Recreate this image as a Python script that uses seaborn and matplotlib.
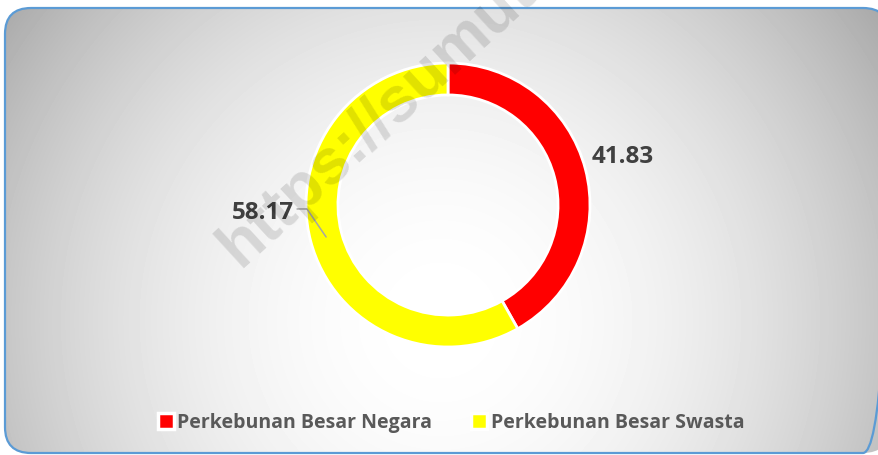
import numpy as np
import matplotlib
matplotlib.use("Agg")
import matplotlib.pyplot as plt
from matplotlib.patches import FancyBboxPatch
from matplotlib.lines import Line2D
import seaborn as sns

# Data
categories = ["Perkebunan Besar Negara", "Perkebunan Besar Swasta"]
shares = [41.83, 58.17]
slice_colors = ["#FF0000", "#FFFF00"]
watermark = "https://sumut.bps.go.id"

# Style
sns.set_theme(style="white")
plt.rcParams["font.family"] = ["Open Sans", "DejaVu Sans"]
palette = sns.color_palette(slice_colors)

W, H = 879, 455
fig = plt.figure(figsize=(W / 100, H / 100), dpi=100)
fig.patch.set_facecolor("white")

# Background panel with radial gradient and rounded border
bg = fig.add_axes([0, 0, 1, 1], zorder=0)
yy, xx = np.mgrid[0:H, 0:W]
r = np.hypot(xx - 440, yy - 320)
shade = 1 - 0.34 * np.clip(r / 540, 0, 1) ** 2
panel = FancyBboxPatch((5, 8), 884, 445, boxstyle="round,pad=0,rounding_size=26",
                       fc="none", ec="#5B9BD5", lw=1.6, zorder=2)
bg.add_patch(panel)
img = bg.imshow(shade, cmap="gray", vmin=0, vmax=1, extent=(0, W, H, 0), zorder=1)
img.set_clip_path(panel)
bg.set_xlim(0, W)
bg.set_ylim(H, 0)
bg.axis("off")

# Donut
cx, cy, rad = 448, 250, 142
ax = fig.add_axes([(cx - rad) / W, (cy - rad) / H, 2 * rad / W, 2 * rad / H], zorder=1)
ax.patch.set_alpha(0)
wedges, _ = ax.pie(shares, colors=palette, startangle=90, counterclock=False,
                   wedgeprops=dict(width=0.225, edgecolor="white", linewidth=2))
ax.set_xlim(-1, 1)
ax.set_ylim(-1, 1)

# Data labels
mid = [np.deg2rad((w.theta1 + w.theta2) / 2) for w in wedges]
lab_kw = dict(fontsize=17.5, fontweight="bold", color="#404040")
ax.text(1.27 * np.cos(mid[0]), 1.27 * np.sin(mid[0]) + 0.015, f"{shares[0]:.2f}",
        ha="center", va="center", **lab_kw)
ax_ = 0.8875 * np.cos(mid[1])
ay_ = 0.8875 * np.sin(mid[1])
ex, ey = -0.993, -0.028
ax.plot([ex - 0.07, ex, ax_], [ey, ey, ay_], color="#A6A6A6", lw=1.1, clip_on=False)
ax.text(ex - 0.095, ey - 0.03, f"{shares[1]:.2f}", ha="right", va="center", **lab_kw)

# Legend
handles = [Line2D([], [], marker="s", ls="", markersize=11, markerfacecolor=c,
                  markeredgecolor="white", markeredgewidth=2.5) for c in palette]
fig.legend(handles, categories, loc="center", bbox_to_anchor=(0.513, 32 / H), ncol=2,
           frameon=False, handlelength=0.8, handletextpad=0.2, columnspacing=2.0,
           prop=dict(weight="bold", size=14), labelcolor="#595959")

# Watermark
fig.text(240 / W, 1 - 268 / H, watermark, rotation=42.5, rotation_mode="anchor",
         ha="left", va="baseline", fontsize=46, fontweight="bold",
         family=["Liberation Sans"], color="black", alpha=0.12, zorder=10)

fig.savefig("out.png", dpi=100)
